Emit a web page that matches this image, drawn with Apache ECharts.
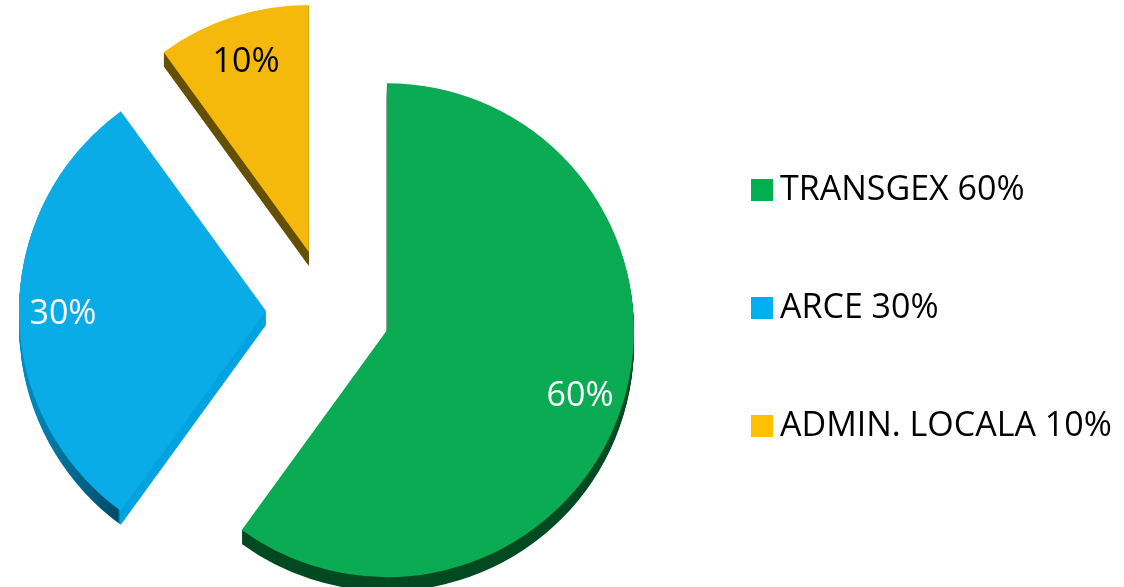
<!DOCTYPE html>
<html>
<head>
<meta charset="utf-8">
<script src="https://cdn.jsdelivr.net/npm/echarts@6/dist/echarts.min.js"></script>
<style>
  html, body { margin: 0; padding: 0; background: #fff; }
  #chart { width: 1124px; height: 587px; }
</style>
</head>
<body>
<div id="chart"></div>
<script>
  // share of capital, in percent
  var categories = ['TRANSGEX', 'ARCE', 'ADMIN. LOCALA']
  var shares = [60, 30, 10]

  var sliceColors = ['#0aab52', '#0aace8', '#f4b90a']
  var legendColors = ['#00b050', '#00b0f0', '#ffc000']
  var labelColors = ['#ffffff', '#ffffff', '#000000']
  var sideColors = [
    '#004a22',
    {
      type: 'linear', x: 0, y: 0, x2: 1, y2: 0,
      colorStops: [
        {offset: 0, color: '#0090c4'},
        {offset: 0.40, color: '#004a68'},
        {offset: 0.41, color: '#00a2e0'},
        {offset: 1, color: '#00a2e0'}
      ]
    },
    '#654f00'
  ]

  var CX = 328
  var CY = 311
  var R = 247
  var EXPLODE = 62
  var DEPTH = 14

  function buildData (colors, labelOn) {
    return categories.map(function (name, i) {
      return {
        name: name,
        value: shares[i],
        selected: true,
        itemStyle: {color: colors ? colors[i] : 'transparent'},
        label: {show: labelOn, color: labelColors[i]}
      }
    })
  }

  var series = []
  // main top face
  series.push({
    name: 'Actionariat',
    type: 'pie',
    z: 3,
    center: [CX, CY],
    radius: R,
    startAngle: 90,
    clockwise: true,
    selectedMode: 'multiple',
    selectedOffset: EXPLODE,
    animation: false,
    silent: true,
    label: {show: false},
    labelLine: {show: false},
    emphasis: {scale: false},
    data: buildData(sliceColors, false)
  })
  // labels placed at ~0.8 R through an invisible ring
  series.push({
    name: 'labels',
    type: 'pie',
    z: 4,
    center: [CX, CY + 3],
    radius: [R * 0.62, R],
    startAngle: 90,
    clockwise: true,
    selectedMode: 'multiple',
    selectedOffset: EXPLODE,
    animation: false,
    silent: true,
    label: {
      show: true,
      position: 'inside',
      formatter: '{c}%',
      fontFamily: 'Open Sans',
      fontSize: 34
    },
    labelLine: {show: false},
    emphasis: {scale: false},
    data: buildData(null, true)
  })
  // side (3d depth) layers
  for (var k = DEPTH; k >= 1; k -= 1) {
    series.push({
      name: 'depth' + k,
      type: 'pie',
      z: 1,
      center: [CX, CY + k],
      radius: R,
      startAngle: 90,
      clockwise: true,
      selectedMode: 'multiple',
      selectedOffset: EXPLODE,
      animation: false,
      silent: true,
      label: {show: false},
      labelLine: {show: false},
      emphasis: {scale: false},
      data: buildData(sideColors, false)
    })
  }

  var option = {
    backgroundColor: '#ffffff',
    animation: false,
    legend: {
      orient: 'vertical',
      left: 746,
      top: 165,
      itemWidth: 22,
      itemHeight: 22,
      itemGap: 78,
      icon: 'rect',
      selectedMode: false,
      data: categories.map(function (name, i) {
        return {name: name, itemStyle: {color: legendColors[i]}}
      }),
      formatter: function (name) {
        return name + ' ' + shares[categories.indexOf(name)] + '%'
      },
      textStyle: {
        color: '#000000',
        fontFamily: 'Open Sans',
        fontSize: 34,
        lineHeight: 40,
        padding: [0, 0, 0, 2]
      }
    },
    series: series
  }

  var chart = echarts.init(document.getElementById('chart'))
  chart.setOption(option)
</script>
</body>
</html>
